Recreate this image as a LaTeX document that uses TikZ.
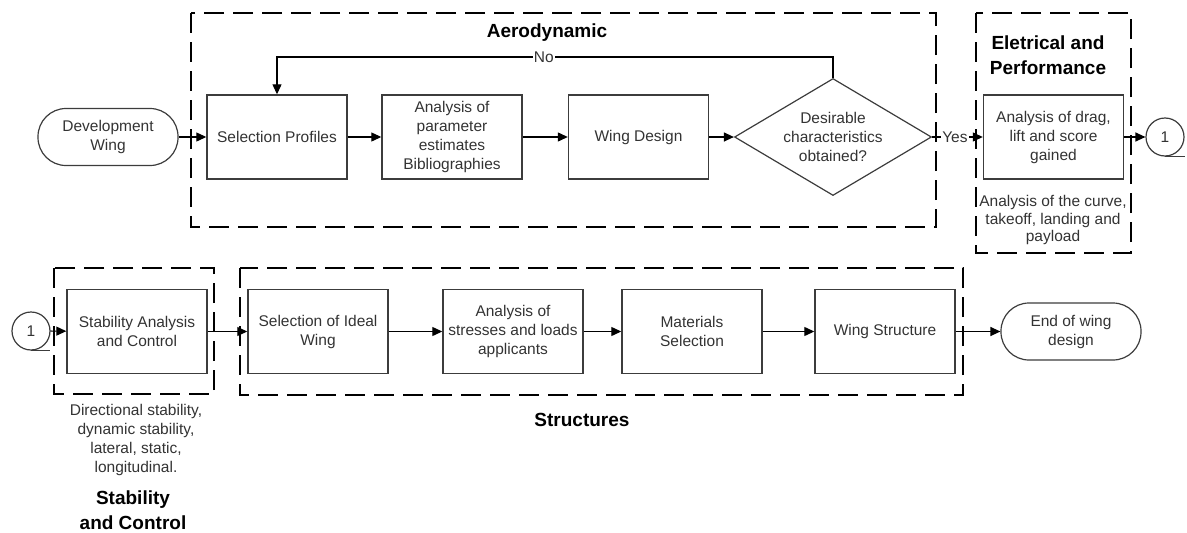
\documentclass[tikz,border=0pt]{standalone}
\usepackage{fontspec}
\setmainfont{Liberation Sans}
\usetikzlibrary{shapes.geometric,arrows.meta}

\definecolor{txtgray}{HTML}{333333}
\definecolor{edgegray}{HTML}{3C3C3C}

\begin{document}
\begin{tikzpicture}[x=1pt,y=-1pt,
  every node/.style={font=\fontsize{15.5}{19}\selectfont, text=txtgray, align=center},
  stepbox/.style={draw=edgegray, line width=1.4pt, minimum width=140pt, minimum height=84pt, inner sep=0pt},
  terminal/.style={draw=edgegray, line width=1.2pt, rounded corners=28pt, minimum width=140pt, minimum height=57pt, inner sep=0pt},
  decision/.style={diamond, draw=edgegray, line width=1.2pt, minimum width=197pt, minimum height=117pt, inner sep=0pt},
  offpage/.style={circle, draw=edgegray, line width=1.2pt, minimum size=38pt, inner sep=0pt},
  group/.style={draw=black, line width=1.3pt, dash pattern=on 20pt off 9pt},
  grouptitle/.style={font=\fontsize{19}{25}\selectfont\bfseries, text=black},
  note/.style={font=\fontsize{15.5}{17.5}\selectfont},
  arr/.style={draw=black, line width=1.2pt, -{Triangle[length=10pt,width=9pt]}},
  tag/.style={fill=white, inner sep=1pt}
]
\useasboundingbox (0,0) rectangle (1187,533);

% group frames
\draw[group] (191,13) rectangle (936,227);
\draw[group] (976,13) rectangle (1131,253);
\draw[group] (54,268) rectangle (214,394);
\draw[group] (240,268) rectangle (963,395);

% group titles and notes
\node[grouptitle] (aerotitle) at (547,33) {Aerodynamic};
\node[grouptitle] (eltitle) at (1048,55) {Eletrical and\\Performance};
\node[grouptitle] (sctitle) at (133,510) {Stability\\and Control};
\node[grouptitle] (sttitle) at (582,420) {Structures};
\node[note] (elnote) at (1053,220) {Analysis of the curve,\\takeoff, landing and\\payload};
\node (scnote) at (136,440) {Directional stability,\\dynamic stability,\\lateral, static,\\longitudinal.};

% first row: aerodynamic design loop
\node[terminal] (start) at (108,137) {Development\\Wing};
\node[stepbox] (selprof) at (277,137) {Selection Profiles};
\node[stepbox] (param) at (452,137) {Analysis of\\parameter\\estimates\\Bibliographies};
\node[stepbox] (wdesign) at (638.5,137) {Wing Design};
\node[decision] (dec) at (833,137) {};
\node (dectext) at (dec.center) {Desirable\\characteristics\\obtained?};
\node[stepbox] (drag) at (1053.5,137) {Analysis of drag,\\lift and score\\gained};
\node[offpage] (outref) at (1165,137) {1};
\draw[edgegray, line width=1.2pt] (outref.south) -- ++(20,0);

\coordinate (noturn) at (833,57);
\draw[arr] (start) -- (selprof);
\draw[arr] (selprof) -- (param);
\draw[arr] (param) -- (wdesign);
\draw[arr] (wdesign) -- (dec);
\draw[arr] (dec.north) -- (noturn) -| (selprof.north) node[pos=0.26, tag] {No};
\draw[arr] (dec.east) -- (drag.west) node[pos=0.45, tag] {Yes};
\draw[arr] (drag) -- (outref);

% second row: stability and structures
\node[offpage] (inref) at (31,331) {1};
\draw[edgegray, line width=1.2pt] (inref.south) -- ++(19,0);
\node[stepbox] (stab) at (137,331.5) {Stability Analysis\\and Control};
\node[stepbox] (ideal) at (318,331.5) {Selection of Ideal\\Wing};
\node[stepbox] (stress) at (513,331.5) {Analysis of\\stresses and loads\\applicants};
\node[stepbox] (mat) at (692,331.5) {Materials\\Selection};
\node[stepbox] (wstruct) at (885,331.5) {Wing Structure};
\node[terminal] (finish) at (1071,331.5) {End of wing\\design};

\draw[arr] (inref) -- (stab);
\draw[arr] (stab) -- (ideal);
\draw[arr] (ideal) -- (stress);
\draw[arr] (stress) -- (mat);
\draw[arr] (mat) -- (wstruct);
\draw[arr] (wstruct) -- (finish);
\end{tikzpicture}
\end{document}
